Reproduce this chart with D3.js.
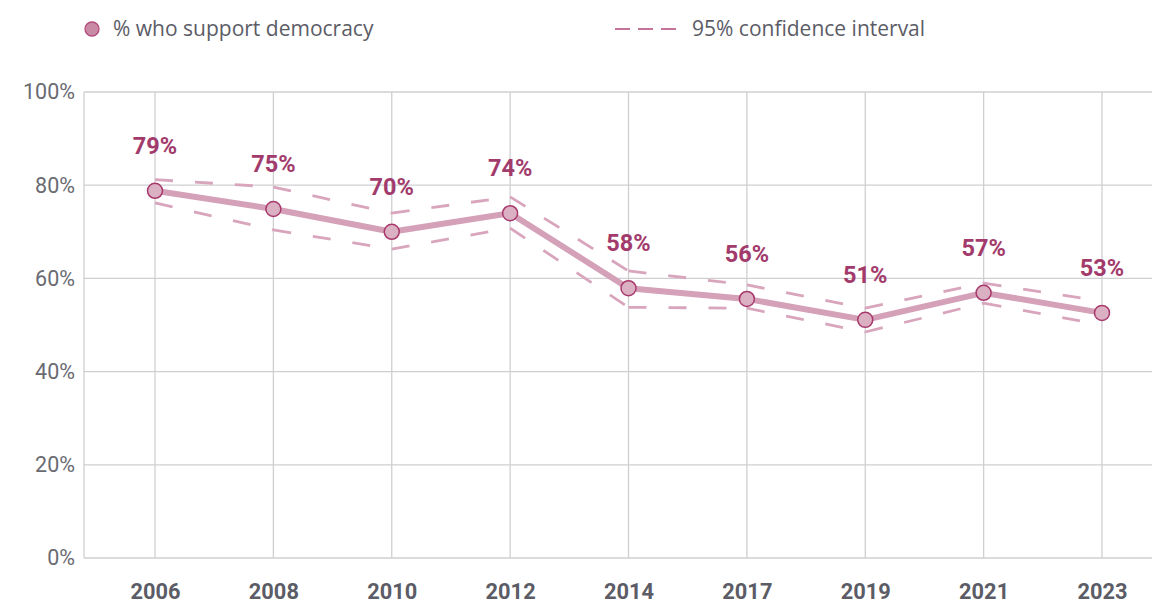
<!DOCTYPE html>
<html><head><meta charset="utf-8">
<script src="https://cdn.jsdelivr.net/npm/d3@7"></script>
<style>html,body{margin:0;padding:0;background:#fff;}svg{display:block;}</style>
</head><body>
<svg id="c" width="1152" height="606"></svg>
<script>
const years = ["2006","2008","2010","2012","2014","2017","2019","2021","2023"];
const support = [78.8, 74.9, 70.0, 74.0, 57.9, 55.6, 51.1, 56.9, 52.6];
const labels = ["79%","75%","70%","74%","58%","56%","51%","57%","53%"];
const ciUpper = [81.2, 79.6, 74.0, 77.5, 61.6, 58.6, 53.6, 59.0, 55.1];
const ciLower = [76.2, 70.4, 66.3, 70.8, 53.8, 53.6, 48.5, 54.7, 50.0];
const yTicks = [0, 20, 40, 60, 80, 100];
const legendItems = ["% who support democracy", "95% confidence interval"];

(function () {
const svg = d3.select("#c");
const pLeft = 84, pTop = 92, pBottom = 558;
const x = d3.scalePoint().domain(years).range([155, 1102]);
const y = d3.scaleLinear().domain([0, 100]).range([pBottom, pTop]);

const grid = "#cfcfd2";
svg.append("g").selectAll("line").data(yTicks).join("line")
  .attr("x1", pLeft).attr("x2", 1152)
  .attr("y1", d => y(d)).attr("y2", d => y(d))
  .attr("stroke", grid).attr("stroke-width", 1.3);
svg.append("g").selectAll("line").data(years).join("line")
  .attr("x1", d => x(d)).attr("x2", d => x(d))
  .attr("y1", pTop).attr("y2", pBottom)
  .attr("stroke", grid).attr("stroke-width", 1.3);
svg.append("line").attr("x1", pLeft).attr("x2", pLeft).attr("y1", pTop).attr("y2", pBottom)
  .attr("stroke", grid).attr("stroke-width", 1.3);

const yAxis = d3.axisLeft(y).tickValues(yTicks).tickFormat(d => d + "%").tickSize(0).tickPadding(9);
const ya = svg.append("g").attr("transform", `translate(${pLeft},0)`).call(yAxis);
ya.select(".domain").remove();
ya.selectAll("text").attr("font-family", "Roboto, sans-serif").attr("font-size", 21.5)
  .attr("fill", "#6a6b72");

const xAxis = d3.axisBottom(x).tickSize(0).tickPadding(0);
const xa = svg.append("g").attr("transform", `translate(0,${pBottom + 26})`).call(xAxis);
xa.select(".domain").remove();
xa.selectAll("text").attr("font-family", "Roboto, sans-serif").attr("font-size", 21.8)
  .attr("font-weight", "bold").attr("fill", "#5b5c66");

// CI dashed lines, each segment drawn separately so dashes restart at each year
[ciUpper, ciLower].forEach(arr => {
  const segs = d3.pairs(arr.map((v, i) => [x(years[i]), y(v)]));
  svg.append("g").selectAll("line").data(segs).join("line")
    .attr("x1", d => d[0][0]).attr("y1", d => d[0][1])
    .attr("x2", d => d[1][0]).attr("y2", d => d[1][1])
    .attr("stroke", "#d8a5bc").attr("stroke-width", 2.8)
    .attr("stroke-dasharray", "18,22");
});

const lineGen = d3.line().x((d, i) => x(years[i])).y(d => y(d));
svg.append("path").attr("d", lineGen(support)).attr("fill", "none")
  .attr("stroke", "#d4a1b8").attr("stroke-width", 6).attr("stroke-linejoin", "round");

svg.append("g").selectAll("circle").data(support).join("circle")
  .attr("cx", (d, i) => x(years[i])).attr("cy", d => y(d)).attr("r", 7.5)
  .attr("fill", "#dbb0c3").attr("stroke", "#a8396c").attr("stroke-width", 1.5);

svg.append("g").selectAll("text").data(support).join("text")
  .attr("x", (d, i) => x(years[i])).attr("y", d => y(d) - 37)
  .attr("text-anchor", "middle")
  .attr("font-family", "Roboto, sans-serif").attr("font-weight", "bold").attr("font-size", 23.5)
  .attr("fill", "#a23b6b")
  .text((d, i) => labels[i]);

const lg = svg.append("g");
lg.append("circle").attr("cx", 92).attr("cy", 29).attr("r", 7)
  .attr("fill", "#c98aa5").attr("stroke", "#b24a7a").attr("stroke-width", 1.3);
lg.append("text").attr("x", 113).attr("y", 36).text(legendItems[0])
  .attr("font-family", "'Open Sans', sans-serif").attr("font-size", 21).attr("fill", "#5b5c66");
lg.append("line").attr("x1", 615).attr("x2", 677).attr("y1", 29).attr("y2", 29)
  .attr("stroke", "#b4467a").attr("stroke-width", 1.5).attr("stroke-dasharray", "15,8");
lg.append("text").attr("x", 692).attr("y", 36).text(legendItems[1])
  .attr("font-family", "'Open Sans', sans-serif").attr("font-size", 21).attr("fill", "#5b5c66");
})();
</script>
</body></html>
